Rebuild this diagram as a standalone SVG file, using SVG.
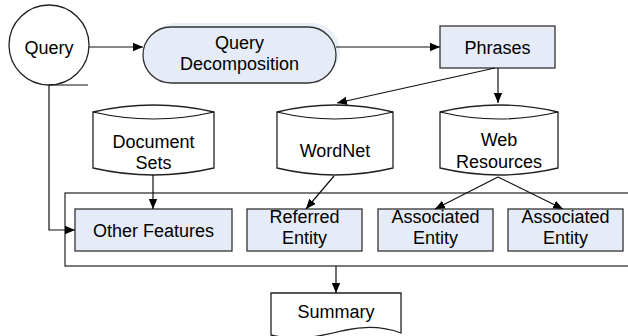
<svg xmlns="http://www.w3.org/2000/svg" width="628" height="336" viewBox="0 0 628 336">
<style>
text{font-family:"Liberation Sans",Arial,sans-serif;font-size:18px;fill:#000;text-anchor:middle}
.box{fill:#e6ecf7;stroke:#333;stroke-width:1.3}
.plain{fill:#fff;stroke:#222;stroke-width:1.3}
.ln{fill:none;stroke:#111;stroke-width:1.2}
</style>
<defs>
<marker id="ah" viewBox="0 0 10 10" refX="10" refY="5" markerWidth="10" markerHeight="10" markerUnits="userSpaceOnUse" orient="auto">
<path d="M0,0.8 L10,5 L0,9.2 Z" fill="#000"/>
</marker>
</defs>
<rect x="0" y="0" width="628" height="336" fill="#fff"/>

<g id="container">
<rect x="65" y="193" width="600" height="73" fill="none" stroke="#222" stroke-width="1.2"/>
</g>

<g id="query">
<circle cx="49" cy="45" r="40" class="plain"/>
<text x="49" y="54">Query</text>
</g>

<g id="query-decomposition">
<rect x="147" y="23" width="193" height="56" rx="28" ry="28" fill="#e9eff9" stroke="none"/>
<rect x="143" y="27" width="193" height="56" rx="28" ry="28" class="box"/>
<text x="239.5" y="49">Query</text>
<text x="239.5" y="70">Decomposition</text>
</g>

<g id="phrases">
<rect x="440" y="26" width="115" height="42" class="box"/>
<text x="497.5" y="54">Phrases</text>
</g>

<g id="document-sets">
<path d="M93,112 Q153.5,98 214,112 V168 Q153.5,182 93,168 Z" class="plain"/>
<path d="M93,112 Q153.5,126 214,112" class="ln"/>
<text x="153.5" y="148">Document</text>
<text x="153.5" y="169">Sets</text>
</g>

<g id="wordnet">
<path d="M277,112 Q335,98 393,112 V168 Q335,182 277,168 Z" class="plain"/>
<path d="M277,112 Q335,126 393,112" class="ln"/>
<text x="335" y="157">WordNet</text>
</g>

<g id="web-resources">
<path d="M440,112 Q499,98 558,112 V168 Q499,182 440,168 Z" class="plain"/>
<path d="M440,112 Q499,126 558,112" class="ln"/>
<text x="499" y="146">Web</text>
<text x="499" y="168">Resources</text>
</g>

<g id="other-features">
<rect x="75" y="209" width="157" height="42" class="box"/>
<text x="153.5" y="237">Other Features</text>
</g>

<g id="referred-entity">
<rect x="247" y="209" width="115" height="42" class="box"/>
<text x="304.5" y="223">Referred</text>
<text x="304.5" y="244">Entity</text>
</g>

<g id="associated-entity-1">
<rect x="378" y="209" width="115" height="42" class="box"/>
<text x="435.5" y="223">Associated</text>
<text x="435.5" y="244">Entity</text>
</g>

<g id="associated-entity-2">
<rect x="508" y="209" width="115" height="42" class="box"/>
<text x="565.5" y="223">Associated</text>
<text x="565.5" y="244">Entity</text>
</g>

<g id="summary">
<path d="M271,293 H401 V333 C385,327 365,326 346,330 C325,335 300,342 271,335 Z" class="plain"/>
<text x="336" y="318">Summary</text>
</g>

<g id="connectors">
<line x1="89" y1="47" x2="143" y2="47" class="ln" marker-end="url(#ah)"/>
<line x1="336" y1="47" x2="440" y2="47" class="ln" marker-end="url(#ah)"/>
<line x1="495" y1="68" x2="337" y2="103" class="ln" marker-end="url(#ah)"/>
<line x1="498" y1="68" x2="498" y2="103" class="ln" marker-end="url(#ah)"/>
<line x1="49" y1="85" x2="88" y2="85" class="ln"/>
<polyline points="49,85 49,230 75,230" class="ln" marker-end="url(#ah)"/>
<line x1="153" y1="175" x2="153" y2="209" class="ln" marker-end="url(#ah)"/>
<line x1="334" y1="176" x2="306" y2="209" class="ln" marker-end="url(#ah)"/>
<line x1="498" y1="177" x2="435" y2="209" class="ln" marker-end="url(#ah)"/>
<line x1="498" y1="177" x2="563" y2="209" class="ln" marker-end="url(#ah)"/>
<line x1="336" y1="266" x2="336" y2="293" class="ln" marker-end="url(#ah)"/>
</g>
</svg>
